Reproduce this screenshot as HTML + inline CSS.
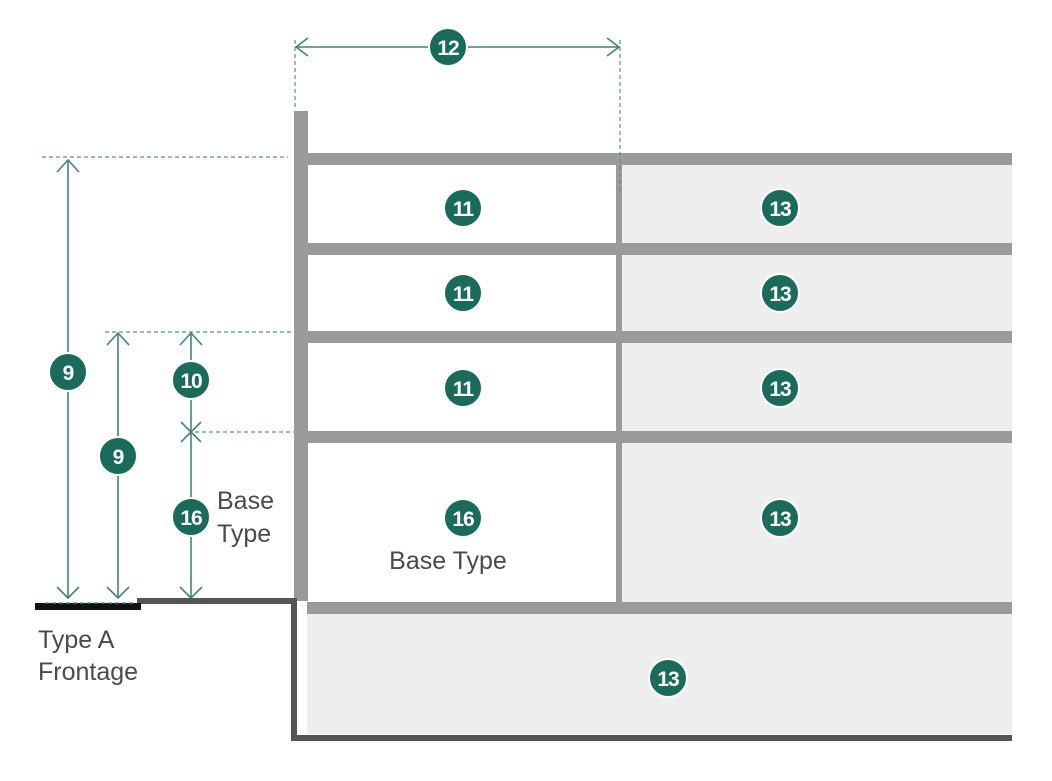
<!DOCTYPE html>
<html><head><meta charset="utf-8"><style>
html,body{margin:0;padding:0;background:#fff;}
svg{display:block;}
text{font-family:"Liberation Sans",sans-serif;}
</style></head><body>
<svg width="1052" height="781" viewBox="0 0 1052 781" xmlns="http://www.w3.org/2000/svg">
<!-- fills -->
<rect x="622" y="165" width="390" height="437" fill="#eeeeee"/>
<rect x="307" y="614" width="705" height="120" fill="#eeeeee"/>
<!-- slabs -->
<g fill="#9a9a9a">
<rect x="307" y="153" width="705" height="12"/>
<rect x="307" y="243" width="705" height="12"/>
<rect x="307" y="331" width="705" height="12"/>
<rect x="307" y="431" width="705" height="12"/>
<rect x="307" y="602" width="705" height="12"/>
<rect x="616" y="165" width="6" height="437"/>
<rect x="294" y="111" width="14" height="490"/>
</g>
<!-- ground / dark outline -->
<path d="M137 601 H294 V738 H1012" fill="none" stroke="#555" stroke-width="6"/>
<rect x="35" y="603" width="106" height="7" fill="#111"/>
<!-- dashed guides -->
<g stroke="#5a8f85" stroke-width="1.2" stroke-dasharray="4,3" fill="none">
<line x1="42" y1="157" x2="288" y2="157"/>
<line x1="105" y1="332" x2="294" y2="332"/>
<line x1="195" y1="432" x2="294" y2="432"/>
<line x1="295" y1="40" x2="295" y2="110"/>
<line x1="620" y1="40" x2="620" y2="195"/>
<line x1="45" y1="603" x2="135" y2="603"/>
</g>
<!-- dimension lines -->
<g stroke="#3f8577" stroke-width="1.6" fill="none">
<line x1="296" y1="47" x2="619" y2="47"/>
<polyline points="308,38 296,47 308,56"/>
<polyline points="607,38 619,47 607,56"/>
<line x1="68" y1="160" x2="68" y2="598"/>
<polyline points="57,172 68,160 79,172"/>
<polyline points="57,587 68,598 79,587"/>
<line x1="118" y1="333" x2="118" y2="598"/>
<polyline points="107,345 118,333 129,345"/>
<polyline points="107,587 118,598 129,587"/>
<line x1="191" y1="333" x2="191" y2="598"/>
<polyline points="180,345 191,333 202,345"/>
<polyline points="180,587 191,598 202,587"/>
<line x1="181" y1="422" x2="201" y2="442"/>
<line x1="201" y1="422" x2="181" y2="442"/>
</g>
<!-- badges -->
<g fill="#1b6b5b" stroke="#fff" stroke-width="2">
<circle cx="448" cy="47" r="19"/>
<circle cx="463" cy="208" r="19"/>
<circle cx="463" cy="293" r="19"/>
<circle cx="463" cy="388" r="19"/>
<circle cx="463" cy="518" r="19"/>
<circle cx="780" cy="208" r="19"/>
<circle cx="780" cy="293" r="19"/>
<circle cx="780" cy="388" r="19"/>
<circle cx="780" cy="518" r="19"/>
<circle cx="668" cy="678" r="19"/>
<circle cx="68" cy="372" r="19"/>
<circle cx="118" cy="456" r="19"/>
<circle cx="191" cy="380" r="19"/>
<circle cx="191" cy="517" r="19"/>
</g>
<g fill="#fff" font-size="21" font-weight="bold" text-anchor="middle" style="letter-spacing:-1px">
<text x="448" y="55">12</text>
<text x="463" y="216">11</text>
<text x="463" y="301">11</text>
<text x="463" y="396">11</text>
<text x="463" y="526">16</text>
<text x="780" y="216">13</text>
<text x="780" y="301">13</text>
<text x="780" y="396">13</text>
<text x="780" y="526">13</text>
<text x="668" y="686">13</text>
<text x="68" y="380">9</text>
<text x="118" y="464">9</text>
<text x="191" y="388">10</text>
<text x="191" y="525">16</text>
</g>
<g fill="#4a4a4a" font-size="25">
<text x="448" y="569" text-anchor="middle">Base Type</text>
<text x="217" y="509">Base</text>
<text x="217" y="542">Type</text>
<text x="38" y="648">Type A</text>
<text x="38" y="680">Frontage</text>
</g>
</svg>
</body></html>
